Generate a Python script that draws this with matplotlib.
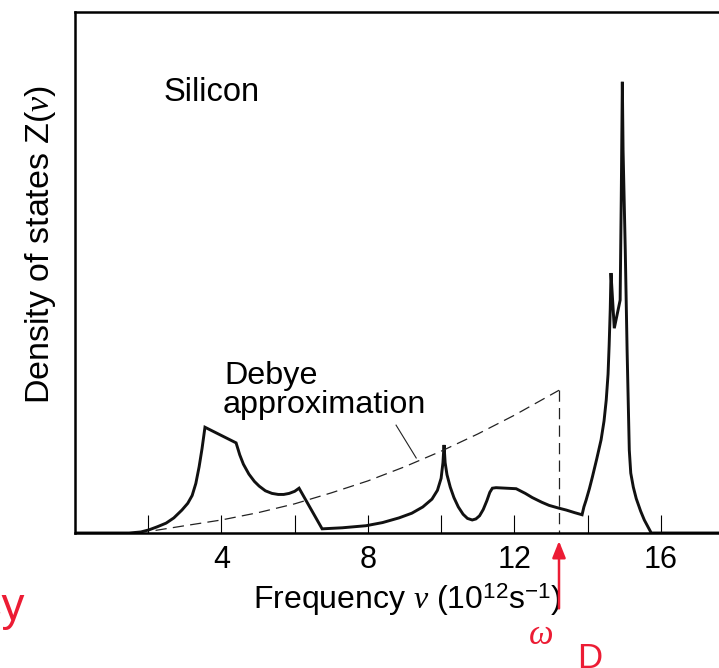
import numpy as np
import matplotlib
matplotlib.use('Agg')
import matplotlib.pyplot as plt

# fuentes
plt.rcParams['font.family'] = ['Liberation Sans', 'DejaVu Sans']
plt.rcParams['mathtext.fontset'] = 'custom'
plt.rcParams['mathtext.rm'] = 'Liberation Sans'
plt.rcParams['mathtext.it'] = 'Liberation Serif:italic'

# densidad de estados del silicio
freq = [0.0, 1.48, 1.80, 2.02, 2.25, 2.49, 2.70, 2.92, 3.08, 3.20, 3.30, 3.39,
        3.47, 3.55, 4.40, 4.50, 4.60, 4.75, 4.90, 5.03, 5.20, 5.38, 5.55, 5.70,
        5.85, 6.00, 6.12, 6.75, 7.30, 7.95, 8.40, 8.85, 9.20, 9.50, 9.75, 9.90,
        10.00, 10.05, 10.08, 10.11, 10.16, 10.25, 10.35, 10.47, 10.60, 10.72,
        10.85, 10.95, 11.05, 11.15, 11.25, 11.33, 11.40, 11.50, 12.05, 12.30,
        12.49, 12.75, 12.95, 13.20, 13.42, 13.65, 13.85, 13.90, 13.96, 14.05,
        14.13, 14.25, 14.37, 14.45, 14.51, 14.56, 14.59, 14.62, 14.64, 14.73,
        14.89, 14.92, 14.95, 14.97, 15.03, 15.08, 15.14, 15.18, 15.25, 15.33,
        15.45, 15.55, 15.74, 18.0]
dos = [0.0, 0.0, 0.02, 0.06, 0.12, 0.19, 0.29, 0.44, 0.57, 0.72, 0.95, 1.27,
       1.62, 2.03, 1.73, 1.50, 1.32, 1.13, 0.99, 0.90, 0.81, 0.76, 0.74, 0.74,
       0.76, 0.80, 0.86, 0.08, 0.10, 0.14, 0.20, 0.29, 0.38, 0.50, 0.65, 0.82,
       1.05, 1.35, 1.69, 1.35, 1.12, 0.88, 0.68, 0.50, 0.36, 0.28,
       0.25, 0.27, 0.33, 0.45, 0.62, 0.78, 0.86, 0.87, 0.85, 0.76,
       0.68, 0.59, 0.53, 0.48, 0.44, 0.39, 0.35, 0.50, 0.63, 0.85,
       1.07, 1.42, 1.79, 2.15, 2.55, 3.05, 3.61, 4.30, 4.99, 3.93,
       4.47, 6.39, 8.66, 7.35, 5.43, 3.51, 1.59, 1.15, 0.88, 0.66,
       0.42, 0.25, 0.0, 0.0]

# aproximación de Debye
debye_freq = [2.2, 3.0, 4.0, 5.0, 6.0, 7.0, 8.0, 9.0, 10.0, 11.0, 12.0, 13.22]
debye_dos = [0.05, 0.14, 0.25, 0.39, 0.56, 0.77, 1.00, 1.27, 1.57, 1.90, 2.26, 2.74]
nu_debye = 13.22

major_ticks = [4, 8, 12, 16]
minor_ticks = [2, 6, 10, 14]

red = '#ec1c34'

fig = plt.figure(figsize=(7.19, 6.68), dpi=100)
ax = fig.add_axes([75 / 719, 135 / 668, 659 / 719, 521 / 668])

ax.plot(freq, dos, color='#111111', lw=2.1, solid_joinstyle='miter')
ax.plot(debye_freq, debye_dos, color='#222222', lw=0.9, linestyle=(0, (9, 5)))
ax.plot([nu_debye, nu_debye], [debye_dos[-1], 0], color='#222222', lw=0.9,
        linestyle=(0, (9, 5)))

ax.set_xlim(0, 18)
ax.set_ylim(0, 10)

# ejes
for s in ['left', 'bottom', 'top']:
    ax.spines[s].set_linewidth(1.8)
ax.spines['right'].set_visible(False)

ax.set_xticks(major_ticks)
ax.set_xticklabels([str(t) for t in major_ticks])
ax.set_xticks(minor_ticks, minor=True)
ax.tick_params(axis='x', which='both', direction='in', length=13, width=0.8,
               pad=9, labelsize=22)
ax.set_yticks([])

ax.set_xlabel(r'Frequency $\nu$ (10$^{12}$s$^{-1}$)', fontsize=23)
ax.xaxis.set_label_coords(0.504, -0.128)
ax.xaxis.label.set_va('center')
ax.set_ylabel(r'Density of states Z($\nu$)', fontsize=24.5)
ax.yaxis.set_label_coords(-0.052, 0.553)
ax.yaxis.label.set_va('center')

# textos
ax.text(2.43, 8.46, 'Silicon', fontsize=23.5, va='center')
ax.text(4.08, 2.86, 'Debye', fontsize=23.3, va='baseline')
ax.text(4.04, 2.30, 'approximation', fontsize=23.3, va='baseline')
ax.plot([8.77, 9.32], [2.07, 1.44], color='#222222', lw=0.8)

# anotaciones en rojo
ax.annotate('', xy=(nu_debye, -0.1), xytext=(nu_debye, -1.5),
            annotation_clip=False,
            arrowprops=dict(arrowstyle='-|>,head_width=0.4,head_length=1.0',
                            color=red, lw=1.8))
ax.text(12.72, -1.95, r'$\omega$', color=red, fontsize=25, ha='center',
        va='center', clip_on=False)
ax.text(14.05, -2.4, 'D', color=red, fontsize=25, ha='center', va='center',
        clip_on=False)
fig.text(25 / 719, 48 / 668, 'frequency', color=red, fontsize=33, ha='right',
         va='baseline')

fig.savefig('out.png', dpi=100)
